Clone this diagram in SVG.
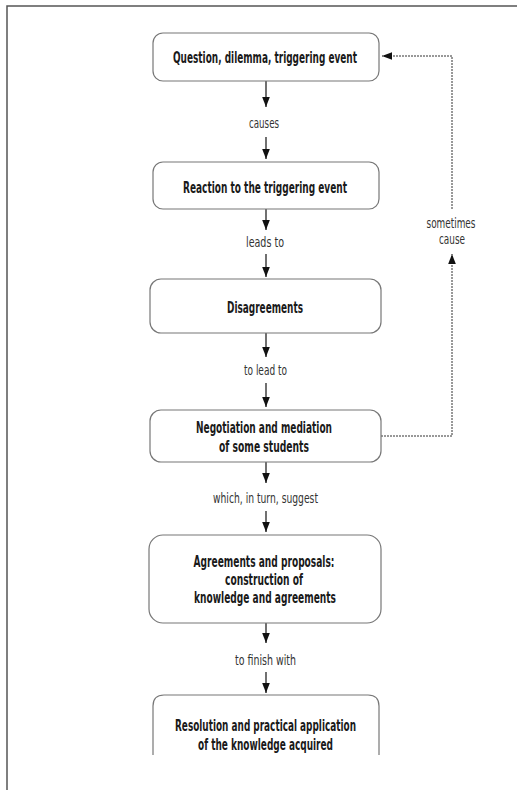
<svg xmlns="http://www.w3.org/2000/svg" width="517" height="790" viewBox="0 0 517 790">
<defs>
<marker id="ah" markerUnits="userSpaceOnUse" markerWidth="10" markerHeight="10" viewBox="0 0 10 10" refX="10" refY="5" orient="auto">
<path d="M0,1.2 L10,5 L0,8.8 Z" fill="#111"/>
</marker>
<style>
.box{fill:#fff;stroke:#777;stroke-width:1.2}
.nt{font-family:"DejaVu Sans Condensed","DejaVu Sans",sans-serif;font-stretch:condensed;font-size:15px;font-weight:bold;fill:#1a1a1a;text-anchor:middle}
.lb{font-family:"DejaVu Sans Condensed","DejaVu Sans",sans-serif;font-stretch:condensed;font-size:13.5px;fill:#333;text-anchor:middle}
.ar{stroke:#111;stroke-width:1.2;fill:none;marker-end:url(#ah)}
.dt{stroke:#333;stroke-width:1;fill:none;stroke-dasharray:2 1}
</style>
</defs>
<rect width="517" height="790" fill="#fff"/>
<path d="M7,790 V6 H517" fill="none" stroke="#555" stroke-width="1.5"/>

<g id="connectors">
<line class="ar" x1="266" y1="81" x2="266" y2="107"/>
<text class="lb" x="264" y="128" textLength="30" lengthAdjust="spacingAndGlyphs">causes</text>
<line class="ar" x1="266" y1="137" x2="266" y2="159"/>
<line class="ar" x1="266" y1="209" x2="266" y2="230"/>
<text class="lb" x="265" y="247" textLength="38" lengthAdjust="spacingAndGlyphs">leads to</text>
<line class="ar" x1="266" y1="254" x2="266" y2="277"/>
<line class="ar" x1="266" y1="333" x2="266" y2="357"/>
<text class="lb" x="265.5" y="375" textLength="43" lengthAdjust="spacingAndGlyphs">to lead to</text>
<line class="ar" x1="266" y1="383" x2="266" y2="407"/>
<line class="ar" x1="266" y1="462" x2="266" y2="483"/>
<text class="lb" x="265.5" y="503" textLength="105" lengthAdjust="spacingAndGlyphs">which, in turn, suggest</text>
<line class="ar" x1="266" y1="511" x2="266" y2="532"/>
<line class="ar" x1="266" y1="623" x2="266" y2="643"/>
<text class="lb" x="265.5" y="665" textLength="61" lengthAdjust="spacingAndGlyphs">to finish with</text>
<line class="ar" x1="266" y1="672" x2="266" y2="693"/>
<path class="dt" d="M381,436 H452 V254" marker-end="url(#ah)"/>
<path class="dt" d="M452,209 V56 H382" marker-end="url(#ah)"/>
<text class="lb" x="451" y="228" textLength="49" lengthAdjust="spacingAndGlyphs">sometimes</text>
<text class="lb" x="452" y="244" textLength="26" lengthAdjust="spacingAndGlyphs">cause</text>
</g>

<g id="n1">
<rect class="box" x="153" y="33" width="226" height="48" rx="10"/>
<text class="nt" x="265" y="63" textLength="184" lengthAdjust="spacingAndGlyphs">Question, dilemma, triggering event</text>
</g>
<g id="n2">
<rect class="box" x="153" y="162" width="226" height="47" rx="10"/>
<text class="nt" x="265" y="193" textLength="164" lengthAdjust="spacingAndGlyphs">Reaction to the triggering event</text>
</g>
<g id="n3">
<rect class="box" x="150" y="279" width="231" height="54" rx="11"/>
<text class="nt" x="265" y="313" textLength="76" lengthAdjust="spacingAndGlyphs">Disagreements</text>
</g>
<g id="n4">
<rect class="box" x="150" y="410" width="231" height="52" rx="11"/>
<text class="nt" x="264" y="433" textLength="136" lengthAdjust="spacingAndGlyphs">Negotiation and mediation</text>
<text class="nt" x="264" y="452" textLength="90" lengthAdjust="spacingAndGlyphs">of some students</text>
</g>
<g id="n5">
<rect class="box" x="149" y="535" width="232" height="88" rx="14"/>
<text class="nt" x="264" y="567" textLength="141" lengthAdjust="spacingAndGlyphs">Agreements and proposals:</text>
<text class="nt" x="264" y="585" textLength="78" lengthAdjust="spacingAndGlyphs">construction of</text>
<text class="nt" x="265" y="603" textLength="142" lengthAdjust="spacingAndGlyphs">knowledge and agreements</text>
</g>
<g id="n6">
<path class="box" d="M153,755 V706 Q153,695 164,695 H368 Q379,695 379,706 V755"/>
<text class="nt" x="265.5" y="731" textLength="181" lengthAdjust="spacingAndGlyphs">Resolution and practical application</text>
<text class="nt" x="265.5" y="750" textLength="135" lengthAdjust="spacingAndGlyphs">of the knowledge acquired</text>
</g>
</svg>
